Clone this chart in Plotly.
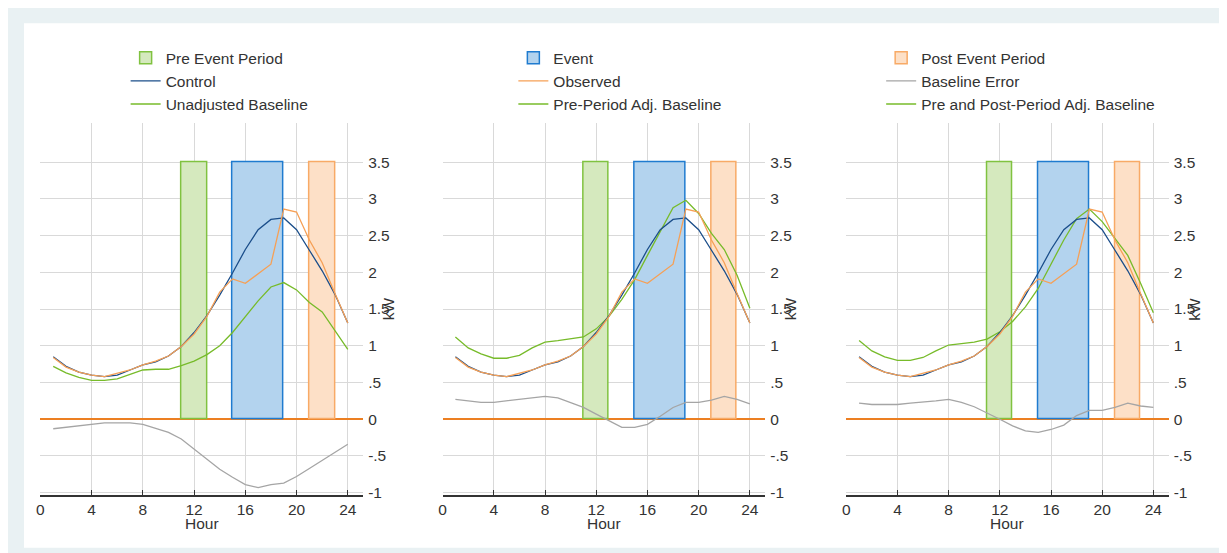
import plotly.graph_objects as go

hours = list(range(1, 25))

control = [0.85, 0.72, 0.64, 0.60, 0.58, 0.60, 0.67, 0.74, 0.78, 0.86, 0.99, 1.18,
           1.41, 1.69, 1.99, 2.31, 2.58, 2.72, 2.74, 2.58, 2.30, 2.02, 1.70, 1.31]
observed = [0.84, 0.71, 0.64, 0.60, 0.58, 0.62, 0.67, 0.74, 0.79, 0.86, 0.99, 1.16,
            1.40, 1.73, 1.91, 1.85, 1.98, 2.11, 2.86, 2.82, 2.44, 2.13, 1.71, 1.31]

baseline_unadj = [0.72, 0.63, 0.57, 0.53, 0.53, 0.55, 0.61, 0.67, 0.68, 0.68, 0.73, 0.79,
                  0.88, 1.00, 1.18, 1.40, 1.61, 1.80, 1.86, 1.76, 1.59, 1.46, 1.21, 0.95]
error_unadj = [-0.13, -0.11, -0.09, -0.07, -0.05, -0.05, -0.05, -0.07, -0.12, -0.18, -0.27, -0.41,
               -0.55, -0.68, -0.79, -0.89, -0.93, -0.89, -0.87, -0.78, -0.67, -0.56, -0.45, -0.34]

baseline_pre = [1.12, 0.97, 0.89, 0.83, 0.83, 0.87, 0.97, 1.05, 1.07, 1.09, 1.12, 1.23,
                1.40, 1.63, 1.90, 2.23, 2.55, 2.88, 2.98, 2.80, 2.53, 2.31, 1.96, 1.51]
error_pre = [0.27, 0.25, 0.23, 0.23, 0.25, 0.27, 0.29, 0.31, 0.29, 0.22, 0.16, 0.07,
             -0.02, -0.11, -0.11, -0.07, 0.04, 0.16, 0.23, 0.23, 0.26, 0.31, 0.27, 0.21]

baseline_prepost = [1.07, 0.93, 0.85, 0.80, 0.80, 0.84, 0.93, 1.01, 1.03, 1.05, 1.09, 1.19,
                    1.33, 1.53, 1.78, 2.11, 2.44, 2.73, 2.86, 2.69, 2.46, 2.23, 1.85, 1.45]
error_prepost = [0.22, 0.20, 0.20, 0.20, 0.22, 0.23, 0.25, 0.27, 0.23, 0.17, 0.09, 0.00,
                 -0.09, -0.16, -0.18, -0.14, -0.08, 0.05, 0.12, 0.12, 0.16, 0.22, 0.18, 0.16]

# periods
period_names = ["Pre Event Period", "Event", "Post Event Period"]
period_centers = [12, 17, 22]
period_widths = [2, 4, 2]
period_height = 3.5

baselines = [baseline_unadj, baseline_pre, baseline_prepost]
errors = [error_unadj, error_pre, error_prepost]
baseline_names = ["Unadjusted Baseline", "Pre-Period Adj. Baseline",
                  "Pre and Post-Period Adj. Baseline"]

ytick_vals = [-1, -0.5, 0, 0.5, 1, 1.5, 2, 2.5, 3, 3.5]
ytick_text = ["-1", "-.5", "0", ".5", "1", "1.5", "2", "2.5", "3", "3.5"]
xtick_vals = [0, 4, 8, 12, 16, 20, 24]

period_fill = ["#d5e9be", "#b3d3ee", "#fde0c7"]
period_line = ["#80c240", "#1f7bcf", "#f8aa66"]
c_control = "#1b4e8a"
c_observed = "#f6a056"
c_base = "#77bb2a"
c_error = "#a5a5a5"

W, H = 1227, 553
xdom = [(28.5, 352.3), (432.0, 755.7), (837.0, 1160.5)]
ydom = [1 - 492.6 / H, 1 - 116.4 / H]
legend_names = ["legend", "legend2", "legend3"]

fig = go.Figure()

for p in range(3):
    xa = "x" if p == 0 else f"x{p+1}"
    ya = "y" if p == 0 else f"y{p+1}"
    lg = legend_names[p]
    for k in range(3):
        fig.add_trace(go.Bar(
            x=[period_centers[k]], y=[period_height], width=[period_widths[k]],
            name=period_names[k], marker=dict(color=period_fill[k],
                                               line=dict(color=period_line[k], width=1.5)),
            xaxis=xa, yaxis=ya, showlegend=(k == p), legend=lg, legendrank=1,
            legendgroup=f"g{p}_bar{k}", hoverinfo="skip"))
    fig.add_trace(go.Scatter(x=hours, y=errors[p], mode="lines", name="Baseline Error",
                             line=dict(color=c_error, width=1.3), xaxis=xa, yaxis=ya,
                             showlegend=(p == 2), legend=lg, legendrank=2,
                             legendgroup=f"g{p}_err"))
    fig.add_trace(go.Scatter(x=hours, y=baselines[p], mode="lines", name=baseline_names[p],
                             line=dict(color=c_base, width=1.3), xaxis=xa, yaxis=ya,
                             showlegend=True, legend=lg, legendrank=3,
                             legendgroup=f"g{p}_base"))
    fig.add_trace(go.Scatter(x=hours, y=control, mode="lines", name="Control",
                             line=dict(color=c_control, width=1.3), xaxis=xa, yaxis=ya,
                             showlegend=(p == 0), legend=lg, legendrank=2,
                             legendgroup=f"g{p}_ctl"))
    fig.add_trace(go.Scatter(x=hours, y=observed, mode="lines", name="Observed",
                             line=dict(color=c_observed, width=1.3), xaxis=xa, yaxis=ya,
                             showlegend=(p == 1), legend=lg, legendrank=2,
                             legendgroup=f"g{p}_obs"))

font_fam = "Liberation Sans, Arial, sans-serif"
txt_col = "#333333"

layout = dict(
    width=W, height=H,
    margin=dict(l=0, r=0, t=0, b=0),
    paper_bgcolor="#e9f1f3", plot_bgcolor="rgba(0,0,0,0)",
    barmode="overlay", bargap=0,
    font=dict(family=font_fam, size=15.5, color=txt_col),
    shapes=[
        dict(type="rect", xref="paper", yref="paper", x0=12 / W, x1=1.2,
             y0=1 - 545.7 / H, y1=1 - 15.4 / H, fillcolor="white", line=dict(width=0),
             layer="below"),
    ],
    annotations=[],
)

legend_x = [114, 503, 872]
for p in range(3):
    sfx = "" if p == 0 else str(p + 1)
    layout["xaxis" + sfx] = dict(
        domain=[xdom[p][0] / W, xdom[p][1] / W], range=[0, 25.2],
        anchor="y" + sfx, tickmode="array", tickvals=xtick_vals,
        showgrid=True, gridcolor="#d9d9d9", gridwidth=1,
        showline=True, linecolor="#333333", linewidth=1.5,
        ticks="inside", ticklen=6, tickcolor="#333333", tickwidth=1.2,
        zeroline=False, tickfont=dict(size=15.5), ticklabelstandoff=-1,
    )
    layout["yaxis" + sfx] = dict(
        domain=ydom, range=[-1.035, 4.03], anchor="x" + sfx, side="right",
        tickmode="array", tickvals=ytick_vals, ticktext=ytick_text,
        showgrid=True, gridcolor="#d9d9d9", gridwidth=1,
        zeroline=True, zerolinecolor="#ec7f22", zerolinewidth=1.6,
        showline=False, ticks="", ticklabelstandoff=4,
        tickfont=dict(size=15.5),
    )
    layout["annotations"].append(dict(
        text="kW", textangle=-90, xref=f"x{sfx} domain", x=1, xshift=25, xanchor="center",
        yref="y" + sfx, y=1.5, yanchor="middle", showarrow=False,
        font=dict(size=15.5, color=txt_col)))
    layout["annotations"].append(dict(
        text="Hour", xref=f"x{sfx} domain", x=0.5, xanchor="center",
        yref="paper", y=1 - 521 / H, yanchor="middle", showarrow=False,
        font=dict(size=15.5, color=txt_col)))
    layout[legend_names[p]] = dict(
        x=legend_x[p] / W, y=1 - 33.5 / H, xanchor="left", yanchor="top",
        bgcolor="rgba(0,0,0,0)", borderwidth=0, traceorder="normal",
        font=dict(size=15.5, color=txt_col), tracegroupgap=1.5, itemwidth=30)

fig.update_layout(**layout)
fig.write_html("out.html")
